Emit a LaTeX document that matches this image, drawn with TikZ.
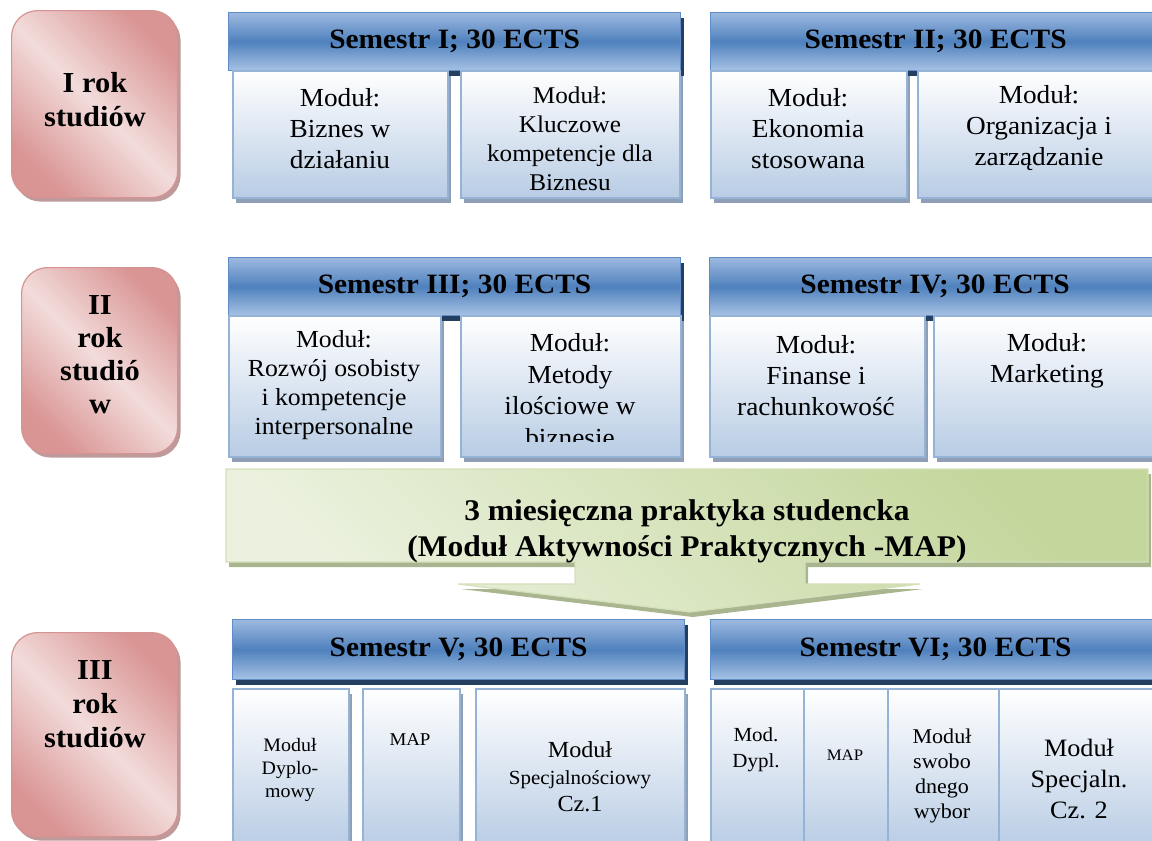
\documentclass[tikz,border=0pt]{standalone}
\usepackage{fontspec}
\setmainfont{Liberation Serif}[FakeStretch=1.05]
\usetikzlibrary{shadows}
\definecolor{hdrlight}{HTML}{9DB9E0}
\definecolor{hdrdark}{HTML}{4F81BD}
\definecolor{hdrbot}{HTML}{A7C2E4}
\definecolor{hdrborder}{HTML}{5F8DC8}
\definecolor{hdrshadow}{HTML}{243F60}
\definecolor{modbot}{HTML}{B8CCE4}
\definecolor{modborder}{HTML}{95B3D7}
\definecolor{modshadow}{HTML}{8E9FB6}
\definecolor{yeardark}{HTML}{D99594}
\definecolor{yearlight}{HTML}{F2DCDB}
\definecolor{yearborder}{HTML}{D69393}
\definecolor{yearshadow}{HTML}{BF9A9A}
\definecolor{glight}{HTML}{EBF1DE}
\definecolor{gdark}{HTML}{C3D69B}
\definecolor{gborder}{HTML}{D3E0B9}
\definecolor{gshadow}{HTML}{A8B58F}
\newcommand\setfs[2]{\fontsize{#1}{#2}\selectfont}
\tikzset{
  hdr/.style={rectangle, anchor=north west, inner sep=0pt, draw=hdrborder, line width=1.2pt,
    top color=hdrlight, bottom color=hdrbot, middle color=hdrdark,
    drop shadow={shadow xshift=3pt, shadow yshift=-5pt, fill=hdrshadow, opacity=1},
    font=\bfseries\setfs{28}{32}},
  modbox/.style={rectangle, anchor=north west, inner sep=0pt, draw=modborder, line width=1.5pt,
    top color=white, bottom color=modbot,
    drop shadow={shadow xshift=3pt, shadow yshift=-5pt, fill=modshadow, opacity=1}},
  yearbox/.style={rectangle, anchor=north west, inner sep=0pt, rounded corners=26pt,
    draw=yearborder, line width=1.2pt,
    top color=yeardark, bottom color=yeardark, middle color=yearlight, shading angle=-45,
    drop shadow={shadow xshift=3pt, shadow yshift=-4pt, fill=yearshadow, opacity=1}},
  ytext/.style={align=center, inner sep=0pt, font=\bfseries\setfs{29}{34}},
  mtext/.style={align=center, inner sep=0pt, font=\setfs{26}{31}},
  greenarrow/.style={draw=gborder, line width=1.2pt, top color=gdark, bottom color=glight, shading angle=-45,
    drop shadow={shadow xshift=3pt, shadow yshift=-5pt, fill=gshadow, opacity=1}},
  gtext/.style={align=center, inner sep=0pt, font=\bfseries\setfs{30}{36}}
}
\begin{document}
\begin{tikzpicture}[x=1pt,y=-1pt]
\useasboundingbox (0,0) rectangle (1152,841);

% ---------- Year boxes ----------
\node[yearbox, minimum width=166pt, minimum height=187pt] (y1) at (11,10) {};
\node[ytext] (y1t) at (95,100) {I rok\\studiów};
\node[yearbox, minimum width=156pt, minimum height=186pt] (y2) at (21,267) {};
\node[ytext, font=\bfseries\setfs{29}{33}] (y2t) at (100,355) {II\\rok\\studió\\w};
\node[yearbox, minimum width=166pt, minimum height=204pt] (y3) at (11,632) {};
\node[ytext] (y3t) at (95,704) {III\\rok\\studiów};

% ---------- Row 1 ----------
\node[hdr, minimum width=452pt, minimum height=58pt] (s1) at (228,12) {Semestr I; 30 ECTS};
\node[hdr, minimum width=450pt, minimum height=58pt] (s2) at (710,12) {Semestr II; 30 ECTS};
\node[modbox, minimum width=215pt, minimum height=127pt] (m11) at (232,70) {};
\node[modbox, minimum width=219pt, minimum height=127pt] (m12) at (460,70) {};
\node[modbox, minimum width=196pt, minimum height=127pt] (m21) at (710,70) {};
\node[modbox, minimum width=243pt, minimum height=127pt] (m22) at (917,70) {};
\node[mtext] (t11) at (340,128.5) {Moduł:\\Biznes w\\działaniu};
\node[mtext, font=\setfs{24}{29}] (t12) at (570,138.5) {Moduł:\\Kluczowe\\kompetencje dla\\Biznesu};
\node[mtext] (t21) at (808,128.5) {Moduł:\\Ekonomia\\stosowana};
\node[mtext] (t22) at (1039,128.5) {Moduł:\\Organizacja i\\zarządzanie};

% ---------- Row 2 ----------
\node[hdr, minimum width=452pt, minimum height=58pt] (s3) at (228,257) {Semestr III; 30 ECTS};
\node[hdr, minimum width=451pt, minimum height=58pt] (s4) at (709,257) {Semestr IV; 30 ECTS};
\node[modbox, minimum width=212pt, minimum height=141pt] (m31) at (228,315) {};
\node[modbox, minimum width=220pt, minimum height=141pt] (m32) at (460,315) {};
\node[modbox, minimum width=215pt, minimum height=141pt] (m41) at (709,315) {};
\node[modbox, minimum width=227pt, minimum height=141pt] (m42) at (933,315) {};
\node[mtext, font=\setfs{24.5}{29}] (t31) at (334,385) {Moduł:\\Rozwój osobisty\\i kompetencje\\interpersonalne};
\begin{scope}
  \clip (461,316) rectangle (679,441);
  \node[mtext, font=\setfs{26}{31.5}] (t32) at (570,390) {Moduł:\\Metody\\ilościowe w\\biznesie};
\end{scope}
\node[mtext] (t41) at (816,376) {Moduł:\\Finanse i\\rachunkowość};
\node[mtext] (t42) at (1047,361) {Moduł:\\Marketing};

% ---------- Green arrow ----------
\draw[greenarrow] (226,469) -- (1148,469) -- (1148,562) -- (805,562) -- (805,584) -- (920,584)
  -- (690,612) -- (458,584) -- (575,584) -- (575,562) -- (226,562) -- cycle;
\node[gtext] (gt) at (687,531) {3 miesięczna praktyka studencka\\(Moduł Aktywności Praktycznych -MAP)};

% ---------- Row 3 ----------
\node[hdr, minimum width=452pt, minimum height=60pt] (s5) at (232,619) {Semestr V; 30 ECTS};
\node[hdr, minimum width=450pt, minimum height=60pt] (s6) at (710,619) {Semestr VI; 30 ECTS};
\node[modbox, minimum width=116pt, minimum height=160pt] (m51) at (232,688) {};
\node[modbox, minimum width=97pt, minimum height=160pt] (m52) at (362,688) {};
\node[modbox, minimum width=209pt, minimum height=160pt] (m53) at (475,688) {};
\node[modbox, minimum width=93pt, minimum height=160pt] (m61) at (710,688) {};
\node[modbox, minimum width=84pt, minimum height=160pt] (m62) at (803,688) {};
\node[modbox, minimum width=111pt, minimum height=160pt] (m63) at (887,688) {};
\node[modbox, minimum width=162pt, minimum height=160pt] (m64) at (998,688) {};
\node[mtext, font=\setfs{19}{23}] (t51) at (290,770) {Moduł\\Dyplo-\\mowy};
\node[mtext, font=\setfs{18}{22}] (t52) at (410,740) {MAP};
\node[mtext, font=\setfs{20}{27}] (t53) at (580,777) {{\setfs{23}{27}Moduł}\\Specjalnościowy\\{\setfs{23}{27}Cz.1}};
\node[mtext, font=\setfs{20}{26}] (t61) at (756,750) {Mod.\\Dypl.};
\node[mtext, font=\setfs{16}{20}] (t62) at (845,755) {MAP};
\node[mtext, font=\setfs{21}{25}] (t63) at (942,775.5) {Moduł\\swobo\\dnego\\wybor};
\node[mtext, font=\setfs{25}{31}] (t64) at (1079,779) {Moduł\\Specjaln.\\Cz. 2};
\end{tikzpicture}
\end{document}
